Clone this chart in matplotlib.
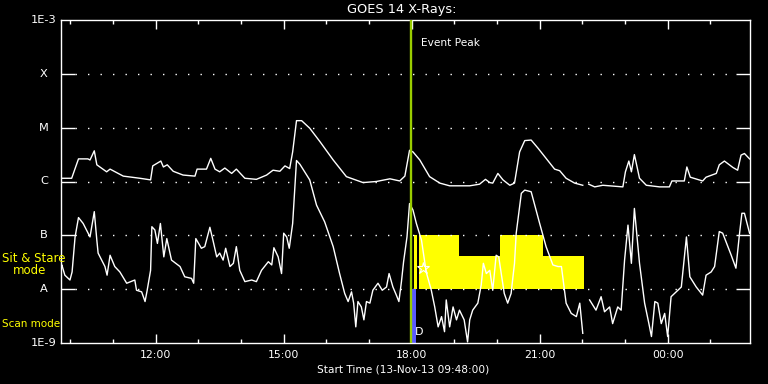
import numpy as np
import matplotlib
matplotlib.use('Agg')
import matplotlib.pyplot as plt
from matplotlib.ticker import FixedLocator, NullLocator, FuncFormatter

# GOES 14 long channel (1-8 A), hours since 13-Nov 00:00, log10 flux
long_hours = [9.78, 10.03, 10.19, 10.41, 10.46, 10.56, 10.62, 10.85, 10.93, 11.24,
              11.63, 11.88, 11.93, 12.12, 12.18, 12.27, 12.41, 12.64, 12.92, 12.97,
              13.19, 13.29, 13.39, 13.50, 13.62, 13.78, 13.89, 14.09, 14.36, 14.60,
              14.75, 14.91, 15.03, 15.14, 15.21, 15.30, 15.42, 15.61, 15.85, 16.16,
              16.47, 16.86, 17.17, 17.49, 17.72, 17.84, 17.95, 18.03, 18.19, 18.42,
              18.66, 18.89, 19.36, 19.59, 19.73, 19.83, 19.90, 20.02, 20.14, 20.30,
              20.41, 20.53, 20.65, 20.80, 20.96, 21.15, 21.35, 21.47, 21.62, 21.82,
              22.01, 22.08, 22.15, 22.29, 22.48, 22.95, 23.01, 23.09, 23.15, 23.22,
              23.34, 23.50, 23.81, 24.04, 24.10, 24.39, 24.45, 24.53, 24.82, 24.90,
              25.14, 25.21, 25.33, 25.53, 25.64, 25.72, 25.80, 25.92]
long_logflux = [-5.94, -5.94, -5.58, -5.58, -5.60, -5.43, -5.69, -5.82, -5.77, -5.90,
                -5.94, -5.97, -5.71, -5.62, -5.73, -5.69, -5.81, -5.88, -5.90, -5.77,
                -5.77, -5.57, -5.77, -5.82, -5.75, -5.85, -5.77, -5.94, -5.96, -5.88,
                -5.79, -5.81, -5.71, -5.76, -5.45, -4.87, -4.87, -5.01, -5.26, -5.60,
                -5.91, -6.02, -6.00, -5.95, -5.99, -5.90, -5.42, -5.45, -5.60, -5.91,
                -6.03, -6.08, -6.08, -6.05, -5.96, -6.02, -6.03, -5.85, -5.97, -6.07,
                -6.03, -5.45, -5.24, -5.23, -5.38, -5.57, -5.77, -5.80, -5.94, -6.03,
                -6.07, np.nan, -6.05, -6.10, -6.07, -6.10, -5.82, -5.62, -5.82, -5.50,
                -5.94, -6.07, -6.10, -6.10, -5.99, -5.99, -5.73, -5.92, -5.99, -5.92,
                -5.85, -5.69, -5.62, -5.74, -5.79, -5.51, -5.48, -5.58]

# short channel (0.5-4 A)
short_hours = [9.78, 9.80, 9.87, 9.99, 10.04, 10.11, 10.19, 10.30, 10.46, 10.56,
               10.62, 10.65, 10.81, 10.86, 10.93, 11.04, 11.16, 11.32, 11.51, 11.55,
               11.67, 11.75, 11.80, 11.88, 11.91, 11.98, 12.04, 12.11, 12.19, 12.26,
               12.37, 12.57, 12.68, 12.84, 12.89, 12.94, 13.07, 13.15, 13.27, 13.35,
               13.43, 13.50, 13.58, 13.64, 13.74, 13.82, 13.89, 13.97, 14.09, 14.25,
               14.36, 14.48, 14.64, 14.72, 14.77, 14.87, 14.95, 15.00, 15.07, 15.13,
               15.21, 15.30, 15.38, 15.61, 15.77, 15.96, 16.16, 16.31, 16.43, 16.51,
               16.59, 16.64, 16.69, 16.74, 16.82, 16.88, 16.94, 17.02, 17.09, 17.21,
               17.31, 17.41, 17.47, 17.56, 17.64, 17.70, 17.76, 17.81, 17.89, 17.95,
               18.03, 18.11, 18.23, 18.34, 18.46, 18.54, 18.62, 18.70, 18.77, 18.81,
               18.89, 18.97, 19.05, 19.12, 19.23, 19.31, 19.36, 19.43, 19.55, 19.63,
               19.68, 19.75, 19.83, 19.90, 19.98, 20.04, 20.10, 20.17, 20.25, 20.33,
               20.41, 20.45, 20.57, 20.65, 20.80, 21.00, 21.15, 21.31, 21.43, 21.51,
               21.62, 21.74, 21.86, 21.94, 22.01, 22.08, 22.17, 22.32, 22.44, 22.52,
               22.64, 22.71, 22.83, 22.91, 22.99, 23.07, 23.15, 23.22, 23.34, 23.46,
               23.56, 23.62, 23.70, 23.77, 23.85, 23.93, 24.00, 24.08, 24.20, 24.32,
               24.44, 24.52, 24.67, 24.82, 24.90, 25.02, 25.10, 25.21, 25.29, 25.49,
               25.60, 25.68, 25.74, 25.80, 25.92]
short_logflux = [-7.58, -7.55, -7.74, -7.83, -7.68, -7.03, -6.67, -6.78, -7.03, -6.56,
                 -7.09, -7.33, -7.58, -7.74, -7.37, -7.58, -7.68, -7.89, -7.83, -8.02,
                 -8.05, -8.23, -8.02, -7.65, -6.84, -6.90, -7.15, -6.78, -7.40, -7.06,
                 -7.46, -7.58, -7.77, -7.80, -7.89, -7.06, -7.24, -7.21, -6.85, -7.12,
                 -7.40, -7.33, -7.46, -7.24, -7.58, -7.52, -7.21, -7.65, -7.86, -7.83,
                 -7.86, -7.65, -7.49, -7.55, -7.23, -7.40, -7.71, -6.96, -7.03, -7.24,
                 -6.78, -5.61, -5.68, -5.97, -6.44, -6.75, -7.21, -7.71, -8.08, -8.23,
                 -8.05, -8.26, -8.70, -8.23, -8.33, -8.57, -8.23, -8.26, -8.02, -7.89,
                 -8.02, -7.96, -7.71, -7.96, -8.11, -8.23, -7.86, -7.49, -7.03, -6.41,
                 -6.53, -6.78, -7.09, -7.68, -8.02, -8.33, -8.70, -8.51, -8.79, -8.20,
                 -8.70, -8.33, -8.57, -8.39, -8.57, -8.98, -8.57, -8.39, -8.26, -7.92,
                 -7.52, -7.71, -7.65, -8.02, -7.37, -7.40, -7.71, -8.08, -8.26, -8.08,
                 -7.52, -6.96, -6.22, -6.16, -6.19, -6.78, -7.21, -7.55, -7.58, -7.58,
                 -8.26, -8.45, -8.51, -8.26, -8.82, np.nan, -8.20, -8.39, -8.14, -8.42,
                 -8.33, -8.64, -8.33, -8.39, -7.46, -6.81, -7.52, -6.50, -7.52, -8.26,
                 -8.64, -8.88, -8.23, -8.26, -8.64, -8.45, -8.88, -8.14, -8.05, -7.96,
                 -7.03, -7.77, -7.96, -8.11, -7.74, -7.68, -7.58, -6.93, -6.96, -7.37,
                 -7.61, -7.00, -6.59, -6.59, -6.96]

# Sit & stare blocks (start, end, top flux)
block_start = [18.05, 18.16, 19.12, 20.08, 21.07]
block_end = [18.12, 19.12, 20.08, 21.07, 22.03]
block_top = [1e-7, 1e-7, 4.1e-8, 1e-7, 4.1e-8]
scan_start, scan_end = 18.0, 18.09
event_peak = 17.98

levels = [1e-8, 1e-7, 1e-6, 1e-5, 1e-4]
level_names = ['1E-9', 'A', 'B', 'C', 'M', 'X', '1E-3']
level_vals = [1e-9, 1e-8, 1e-7, 1e-6, 1e-5, 1e-4, 1e-3]
t0, t1 = 9.78, 25.93

W, H = 768, 384
fig = plt.figure(figsize=(W / 100, H / 100), dpi=100, facecolor='black')
ax = fig.add_axes([61 / W, 41 / H, 689 / W, 323 / H], facecolor='black')
ax.set_yscale('log')
ax.set_xlim(t0, t1)
ax.set_ylim(1e-9, 1e-3)

for s, e, top in zip(block_start, block_end, block_top):
    ax.fill_between([s, e], 1e-8, top, color='#ffff00', lw=0, zorder=1)
ax.fill_between([scan_start, scan_end], 1e-9, 1e-8, color='#5a5aff', lw=0, zorder=2)

for lv in levels:
    ax.axhline(lv, xmin=0.02, xmax=0.98, color='white', lw=1,
               linestyle=(0, (1, 8)), zorder=1)

ax.plot(long_hours, 10 ** np.array(long_logflux), color='white', lw=1, zorder=3)
ax.plot(short_hours, 10 ** np.array(short_logflux), color='white', lw=1, zorder=3)

ax.axvline(event_peak, color='#9acd00', lw=1.7, zorder=4)
ax.text(event_peak + 0.23, 10 ** -3.43, 'Event Peak', color='white',
        fontsize=7.6, va='center')
ax.plot([18.26], [10 ** -7.61], marker='*', ms=9, mfc='none', mec='white', mew=0.8, zorder=5)
ax.text(18.07, 10 ** -8.79, 'D', color='white', fontsize=8, va='center', zorder=5)

# axes styling
for sp in ax.spines.values():
    sp.set_color('white')
    sp.set_linewidth(1)
ax.yaxis.set_major_locator(FixedLocator(levels))
ax.yaxis.set_minor_locator(NullLocator())
ax.tick_params(axis='y', which='major', direction='in', length=10, width=1,
               color='white', left=True, right=True, labelleft=False)
ax.xaxis.set_major_locator(FixedLocator([12, 15, 18, 21, 24]))
ax.xaxis.set_minor_locator(FixedLocator(range(10, 26)))
ax.xaxis.set_major_formatter(FuncFormatter(lambda v, p: '%02d:00' % (int(round(v)) % 24)))
ax.tick_params(axis='x', which='major', direction='in', length=6.5, width=1,
               color='white', top=True, bottom=True, labelcolor='white',
               labelsize=7.8, pad=5)
ax.tick_params(axis='x', which='minor', direction='in', length=3, width=1,
               color='white', top=True, bottom=True)

for name, v in zip(level_names, level_vals):
    ypix = 343 - (np.log10(v) + 9) * 323 / 6
    fig.text(44 / W, 1 - ypix / H, name, color='white', fontsize=8.2,
             ha='center', va='center')

fig.text(402 / W, 1 - 10 / H, 'GOES 14 X-Rays:', color='white', fontsize=9.3,
         ha='center', va='center')
fig.text(403 / W, 1 - 369 / H, 'Start Time (13-Nov-13 09:48:00)', color='white',
         fontsize=7.6, ha='center', va='center')

fig.text(2 / W, 1 - 259 / H, 'Sit & Stare', color='#ffff00', fontsize=8.5, va='center')
fig.text(13 / W, 1 - 271 / H, 'mode', color='#ffff00', fontsize=8.5, va='center')
fig.text(2 / W, 1 - 324 / H, 'Scan mode', color='#ffff00', fontsize=7.5, va='center')

fig.savefig('out.png', dpi=100, facecolor='black')
